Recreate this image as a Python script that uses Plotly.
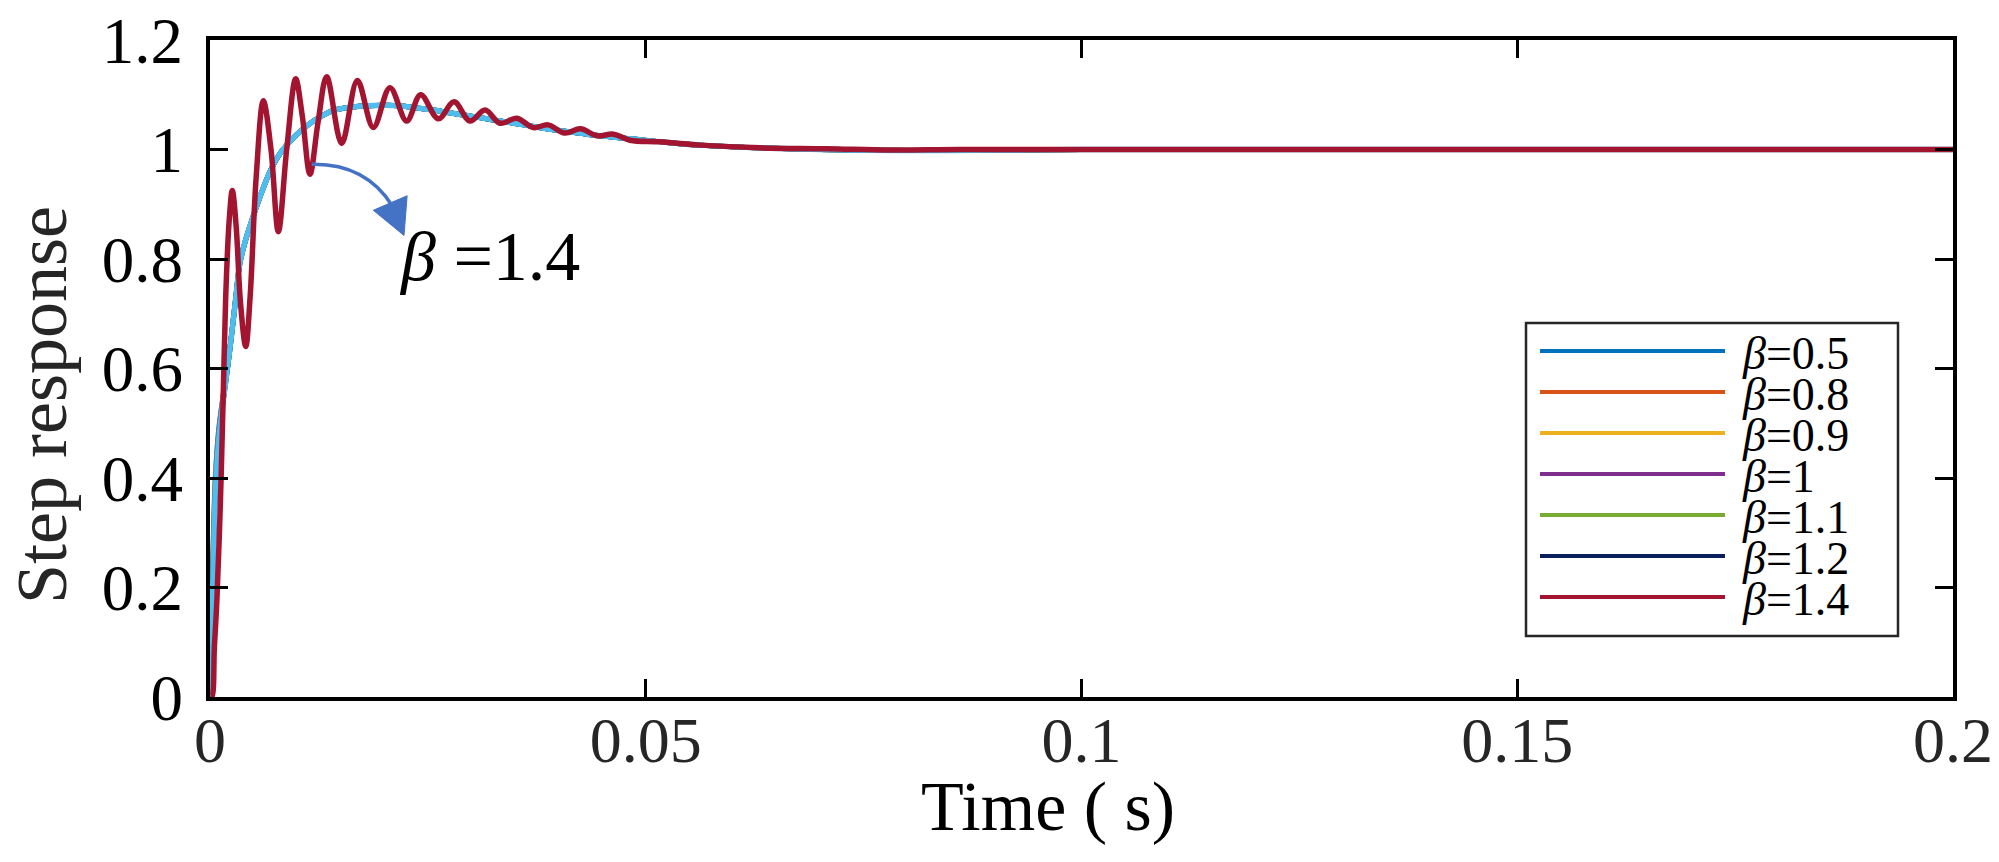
import plotly.graph_objects as go

# ---------------- data ----------------
BETA_LABELS = ["0.5", "0.8", "0.9", "1", "1.1", "1.2", "1.4"]
BETA_COLORS = ["#0072BD", "#D95319", "#EDB120", "#7E2F8E", "#77AC30", "#0A1F5C", "#A2142F"]
ENVELOPE_COLOR = "#4DBEEE"

X_TICKS = [0, 0.05, 0.1, 0.15, 0.2]
X_TICK_TEXT = ["0", "0.05", "0.1", "0.15", "0.2"]
Y_TICKS = [0, 0.2, 0.4, 0.6, 0.8, 1.0, 1.2]
Y_TICK_TEXT = ["0", "0.2", "0.4", "0.6", "0.8", "1", "1.2"]

# common time grid of the overlapping (non-oscillating) responses
T_SMOOTH = [0, 0.0003, 0.0006, 0.001, 0.0015, 0.002, 0.0025, 0.003, 0.0034, 0.004,
            0.005, 0.006, 0.0069, 0.0078, 0.0088, 0.010, 0.0115, 0.0128, 0.0141, 0.016,
            0.018, 0.020, 0.0218, 0.0237, 0.0256, 0.0275, 0.0295, 0.0314, 0.0333, 0.0352,
            0.0371, 0.039, 0.0409, 0.0428, 0.0448, 0.0467, 0.0486, 0.0524, 0.0562, 0.063,
            0.07, 0.08, 0.09, 0.1, 0.15, 0.2]

# first six samples of each overlapping curve (they differ only at the very start)
EARLY_05 = [0, 0.24, 0.40, 0.49, 0.55, 0.60]
EARLY_08 = [0, 0.23, 0.39, 0.48, 0.55, 0.60]
EARLY_09 = [0, 0.22, 0.39, 0.48, 0.54, 0.60]
EARLY_10 = [0, 0.21, 0.38, 0.48, 0.54, 0.60]
EARLY_11 = [0, 0.21, 0.38, 0.47, 0.54, 0.60]
EARLY_12 = [0, 0.20, 0.37, 0.47, 0.54, 0.60]
EARLY_ENV = [0, 0.19, 0.37, 0.47, 0.54, 0.60]

# remaining samples, shared by all overlapping curves
SETTLE = [0.665, 0.735, 0.79, 0.83,
          0.88, 0.925, 0.96, 0.987, 1.008, 1.028, 1.048, 1.061, 1.071, 1.077,
          1.080, 1.081, 1.080, 1.076, 1.072, 1.067, 1.062, 1.057, 1.052, 1.047,
          1.042, 1.037, 1.033, 1.029, 1.025, 1.022, 1.019, 1.013, 1.008, 1.003,
          1.000, 0.998, 0.999, 1.0, 1.0, 1.0]

# beta = 1.4 (oscillating response)
T_RED = [0, 0.0002, 0.0005, 0.0008, 0.0012, 0.0015, 0.0018, 0.0022, 0.00256, 0.003,
         0.0035, 0.0041, 0.0046, 0.0053, 0.00612, 0.007, 0.00784, 0.0088, 0.00983, 0.0106,
         0.01147, 0.0124, 0.01339, 0.01511, 0.01691, 0.01874, 0.02065, 0.02257, 0.02417, 0.0262,
         0.028, 0.02983, 0.03156, 0.03328, 0.0352, 0.0371, 0.0388, 0.0407, 0.0425, 0.0444,
         0.0463, 0.0482, 0.0516, 0.0562, 0.0631, 0.0708, 0.078, 0.086, 0.1, 0.15, 0.2]
V_RED = [0, 0.0, 0.09, 0.18, 0.36, 0.54, 0.73, 0.87, 0.925, 0.86,
         0.72, 0.64, 0.73, 0.95, 1.089, 1.00, 0.850, 1.00, 1.129, 1.06,
         0.955, 1.05, 1.133, 1.011, 1.126, 1.040, 1.113, 1.052, 1.100, 1.056,
         1.087, 1.052, 1.072, 1.048, 1.057, 1.040, 1.045, 1.030, 1.038, 1.025,
         1.028, 1.017, 1.014, 1.008, 1.003, 1.0015, 0.999, 1.0, 1.0, 1.0, 1.0]

ANNOT_TEXT = "<i>β</i> =1.4"
ANNOT_POS = (0.0321, 0.804)
ARROW_PATH = [(0.01167, 0.973), (0.01779, 0.975), (0.02088, 0.898)]   # start, control, end
ARROW_HEAD = [(0.01874, 0.889), (0.02262, 0.9155), (0.02226, 0.843)]

# ---------------- layout geometry ----------------
# the page body has an 8 px margin, so the figure is a bit smaller than the window
OFF = 8
W, H = 1991, 854
ML, MR, MT, MB = 202, 46, 32, 165
PW, PH = W - ML - MR, H - MT - MB
FONT = "Liberation Serif, Times New Roman, serif"


def px(xp):
    """window pixel x -> paper x"""
    return (xp - OFF - ML) / PW


def py(yp):
    """window pixel y -> paper y"""
    return (OFF + H - MB - yp) / PH


fig = go.Figure()

early_sets = [EARLY_05, EARLY_08, EARLY_09, EARLY_10, EARLY_11, EARLY_12]
for lab, col, early in zip(BETA_LABELS[:6], BETA_COLORS[:6], early_sets):
    fig.add_trace(go.Scatter(x=T_SMOOTH, y=early + SETTLE, mode="lines",
                             line=dict(color=col, width=5, shape="spline", smoothing=0.8),
                             name="β=" + lab, showlegend=False, hoverinfo="skip"))

fig.add_trace(go.Scatter(x=T_SMOOTH, y=EARLY_ENV + SETTLE, mode="lines",
                         line=dict(color=ENVELOPE_COLOR, width=5.5, shape="spline", smoothing=0.8),
                         showlegend=False, hoverinfo="skip"))

fig.add_trace(go.Scatter(x=T_RED, y=V_RED, mode="lines",
                         line=dict(color=BETA_COLORS[6], width=5.5, shape="spline", smoothing=1.0),
                         name="β=" + BETA_LABELS[6], showlegend=False, hoverinfo="skip"))

axis_common = dict(showgrid=False, zeroline=False, showline=True, linecolor="black",
                   linewidth=4, mirror="ticks", ticks="inside", ticklen=18, tickwidth=3,
                   tickcolor="black", ticklabeloverflow="allow", automargin=False)

fig.update_layout(
    width=W, height=H,
    margin=dict(l=ML, r=MR, t=MT, b=MB, autoexpand=False),
    paper_bgcolor="white", plot_bgcolor="white",
    showlegend=False,
    font=dict(family=FONT, color="black"),
    xaxis=dict(range=[0, 0.2], tickvals=X_TICKS, ticktext=X_TICK_TEXT,
               tickfont=dict(size=64, color="#262626", family=FONT),
               ticklabelstandoff=-16, **axis_common),
    yaxis=dict(range=[0, 1.2], tickvals=Y_TICKS, ticktext=Y_TICK_TEXT,
               tickfont=dict(size=65, color="black", family=FONT),
               ticklabelstandoff=10, **axis_common),
)

# axis titles
fig.add_annotation(text="Step response", xref="paper", yref="paper", x=px(42), y=py(405),
                   xanchor="center", yanchor="middle", showarrow=False, textangle=-90,
                   font=dict(size=72, color="#262626", family=FONT))
fig.add_annotation(text="Time ( s)", xref="paper", yref="paper", x=px(1048), y=py(807),
                   xanchor="center", yanchor="middle", showarrow=False,
                   font=dict(size=70, color="black", family=FONT))

# curved arrow + label
(p0, c, p2) = ARROW_PATH
fig.add_shape(type="path", xref="x", yref="y",
              path=f"M {p0[0]},{p0[1]} Q {c[0]},{c[1]} {p2[0]},{p2[1]}",
              line=dict(color="#4472C4", width=3.5))
h = ARROW_HEAD
fig.add_shape(type="path", xref="x", yref="y",
              path=f"M {h[0][0]},{h[0][1]} L {h[1][0]},{h[1][1]} L {h[2][0]},{h[2][1]} Z",
              line=dict(color="#4472C4", width=1), fillcolor="#4472C4")
fig.add_annotation(text=ANNOT_TEXT, xref="x", yref="y", x=ANNOT_POS[0], y=ANNOT_POS[1],
                   xanchor="center", yanchor="middle", showarrow=False,
                   font=dict(size=70, color="black", family=FONT))

# legend box (drawn manually to match the tight MATLAB spacing)
fig.add_shape(type="rect", xref="paper", yref="paper",
              x0=px(1526), x1=px(1898), y0=py(636), y1=py(323),
              line=dict(color="#262626", width=2.5), fillcolor="white", layer="above")
for i, (lab, col) in enumerate(zip(BETA_LABELS, BETA_COLORS)):
    yy = 351 + 41 * i
    fig.add_shape(type="line", xref="paper", yref="paper",
                  x0=px(1540), x1=px(1725), y0=py(yy), y1=py(yy),
                  line=dict(color=col, width=4), layer="above")
    fig.add_annotation(text="<i>β</i>=" + lab, xref="paper", yref="paper",
                       x=px(1740), y=py(yy + 2), xanchor="left", yanchor="middle",
                       showarrow=False, font=dict(size=46, color="black", family=FONT))

fig.write_html("out.html")
